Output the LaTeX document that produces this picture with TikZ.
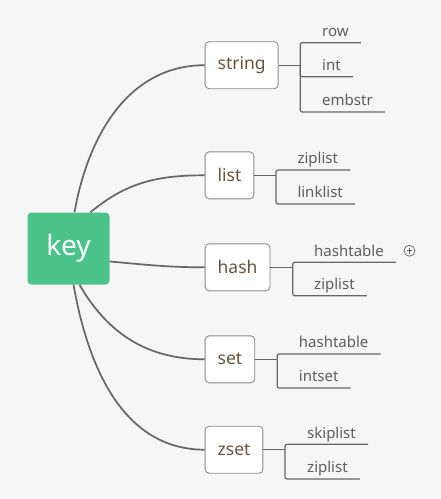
\documentclass[tikz,border=0pt]{standalone}
\usepackage{fontspec}
\setmainfont{Noto Sans}
\definecolor{keygreen}{HTML}{4CC38A}
\definecolor{bggray}{HTML}{F6F6F6}
\definecolor{linkgray}{HTML}{666666}
\definecolor{boxgray}{HTML}{8A8A8A}
\definecolor{typebrown}{HTML}{66543F}
\definecolor{leafgray}{HTML}{5E5E5E}

\begin{document}
\begin{tikzpicture}[
    x=1pt, y=1pt,
    link/.style  = {draw=linkgray, line width=1.7pt},
    line/.style  = {draw=linkgray, line width=1.2pt, rounded corners=2pt},
    root/.style  = {fill=keygreen, rounded corners=4pt, text=white,
                    minimum width=82pt, minimum height=72pt,
                    font=\fontsize{28}{30}\selectfont},
    block/.style = {draw=boxgray, line width=0.9pt, fill=white, rounded corners=4pt,
                    anchor=west, minimum height=47pt, inner xsep=12.5pt,
                    text=typebrown, font=\fontsize{17.5}{20}\selectfont},
    leaf/.style  = {anchor=south west, inner xsep=12pt, inner ysep=6pt, text depth=0pt,
                    text=leafgray, font=\fontsize{15}{18}\selectfont}
]
\fill[bggray] (0,0) rectangle (441,-499);
\useasboundingbox (0,0) rectangle (441,-499);

% Root
\node[root] (key) at (68.5,-248.5) {key};

% Type boxes
\node[block] (string) at (204.7,-65.2)  {string};
\node[block] (list)   at (204.7,-175.3) {list};
\node[block] (hash)   at (204.7,-267.3) {hash};
\node[block] (set)    at (204.7,-359.3) {set};
\node[block] (zset)   at (204.7,-449.7) {zset};

% Curves from the root
\draw[link] ([xshift=6pt]key.north)   to[out=80, in=180]  (string.west);
\draw[link] ([xshift=22pt]key.north)  to[out=40, in=180]  (list.west);
\draw[link] ([yshift=-13pt]key.east)  to[out=-5, in=180]  (hash.west);
\draw[link] ([xshift=11pt]key.south)  to[out=-60, in=180] (set.west);
\draw[link] ([xshift=5pt]key.south)   to[out=-80, in=180] (zset.west);

% Junctions
\coordinate (jstring) at ([xshift=21.7pt]string.east);
\coordinate (jlist)   at ([xshift=21.6pt]list.east);
\coordinate (jhash)   at ([xshift=22.3pt]hash.east);
\coordinate (jset)    at ([xshift=22pt]set.east);
\coordinate (jzset)   at ([xshift=21.7pt]zset.east);
\foreach \b in {string, list, hash, set, zset}
    \draw[line] (\b.east) -- (j\b);

% Leaves
\node[leaf] (s1) at (310,-42.7) {row};
\node[leaf] (s2) at (310,-76.7) {int};
\node[leaf] (s3) at (310,-112)  {embstr};
\node[leaf] (l1) at (285.3,-170) {ziplist};
\node[leaf] (l2) at (285.3,-204) {linklist};
\node[leaf] (h1) at (302,-262.3) {hashtable};
\node[leaf] (h2) at (302,-295.7) {ziplist};
\node[leaf] (t1) at (286.7,-354) {hashtable};
\node[leaf] (t2) at (286.7,-388) {intset};
\node[leaf] (z1) at (295,-444.3) {skiplist};
\node[leaf] (z2) at (295,-479)   {ziplist};

\foreach \b/\n in {string/s1, string/s2, string/s3, list/l1, list/l2,
                   hash/h1, hash/h2, set/t1, set/t2, zset/z1, zset/z2}
    \draw[line] (j\b) |- (\n.south east);

% Collapsed marker
\node[draw=leafgray, circle, line width=0.7pt, minimum size=11pt, inner sep=0pt]
    (more) at (409.5,-250.7) {};
\draw[leafgray, line width=0.7pt] ([yshift=-3pt]more.north) -- ([yshift=3pt]more.south)
    ([xshift=3pt]more.west) -- ([xshift=-3pt]more.east);

\end{tikzpicture}
\end{document}
